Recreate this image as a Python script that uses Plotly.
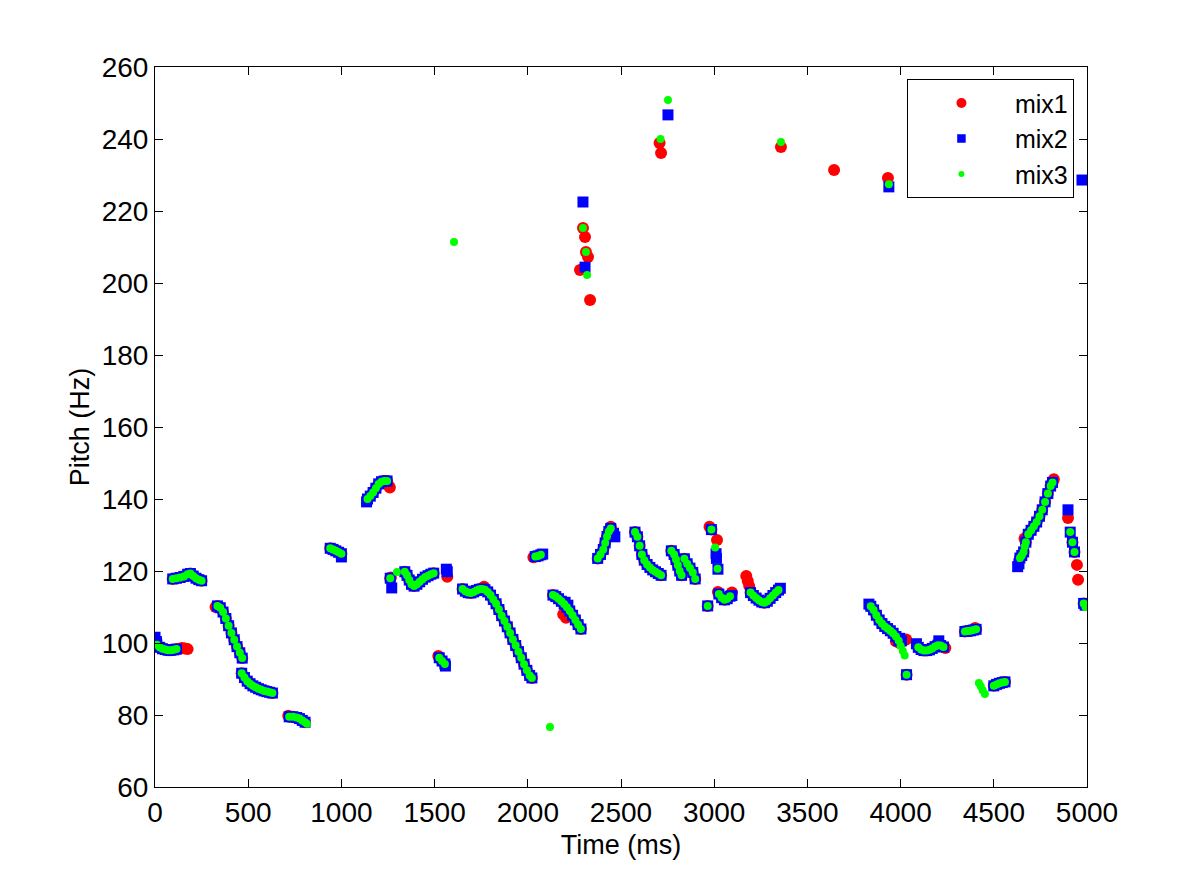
import plotly.graph_objects as go

# ---- pitch tracks shared by all three mixtures (time in ms, pitch in Hz) ----
seg01_t = [10, 25, 40, 55, 70, 85, 100, 115]
seg01_p = [99.5, 98.8, 98.4, 98.2, 98.0, 98.0, 98.1, 98.3]
seg02_t = [95, 115, 135, 155, 175, 190, 205, 220, 235, 250]
seg02_p = [117.8, 118.0, 118.2, 118.5, 119.1, 119.3, 118.6, 118.0, 117.6, 117.3]
seg03_t = [335, 350, 365, 380, 395, 410, 425, 440, 455, 468]
seg03_p = [110.3, 109.8, 108.6, 106.8, 104.8, 102.8, 100.9, 99.0, 97.3, 95.8]
seg04_t = [465, 480, 495, 510, 525, 540, 555, 570, 585, 600, 615, 630]
seg04_p = [91.6, 90.4, 89.4, 88.7, 88.1, 87.7, 87.3, 87.0, 86.7, 86.5, 86.3, 86.1]
seg05_t = [720, 740, 760, 775, 790, 805]
seg05_p = [79.5, 79.5, 79.3, 79.0, 78.5, 78.0]
seg06_t = [940, 955, 970, 985, 1000]
seg06_p = [126.3, 126.0, 125.6, 125.2, 124.8]
seg07_t = [1140, 1155, 1170, 1185, 1200, 1215, 1230, 1245]
seg07_p = [140.0, 140.8, 141.8, 143.0, 144.2, 144.8, 145.0, 145.0]
seg08_t = [1262, 1340, 1352, 1364, 1376, 1390, 1405, 1420, 1435, 1450, 1465, 1480, 1495]
seg08_p = [118.0, 119.8, 118.8, 117.5, 116.3, 115.8, 116.3, 117.0, 117.7, 118.3, 118.7, 119.1, 119.4]
seg09_t = [1525, 1540, 1555]
seg09_p = [95.9, 95.0, 94.2]
seg10_t = [1650, 1665, 1680, 1695, 1710, 1725, 1740, 1755, 1770, 1785, 1800, 1815, 1830,
           1845, 1860, 1875, 1890, 1905, 1920, 1935, 1950, 1965, 1980, 1995, 2010, 2022]
seg10_p = [115.0, 114.4, 114.0, 113.9, 114.2, 114.6, 114.9, 115.0, 114.8, 114.2, 113.3, 112.1, 110.9,
           109.3, 107.6, 106.1, 104.5, 102.8, 101.0, 99.3, 97.6, 95.9, 94.1, 92.4, 91.0, 90.3]
seg11_t = [2040, 2055, 2070]
seg11_p = [124.0, 124.2, 124.5]
seg12_t = [2135, 2150, 2165, 2180, 2195, 2210, 2225, 2240, 2255, 2270, 2285]
seg12_p = [113.3, 112.9, 112.3, 111.6, 110.8, 109.9, 108.9, 107.7, 106.4, 105.1, 103.9]
seg14_t = [2375, 2390, 2405, 2415, 2425, 2435, 2445]
seg14_p = [123.5, 124.6, 126.0, 127.8, 129.6, 131.0, 131.8]
seg15_t = [2575, 2588, 2600, 2612, 2625, 2640, 2655, 2670, 2685, 2700, 2715]
seg15_p = [130.8, 129.5, 127.0, 124.6, 123.0, 121.8, 121.0, 120.3, 119.8, 119.3, 118.8]
seg16_t = [2770, 2785, 2795, 2805, 2815, 2825, 2840, 2855, 2870, 2885, 2898]
seg16_p = [125.6, 124.6, 123.2, 121.6, 120.0, 118.8, 123.4, 122.0, 120.8, 119.6, 117.8]
seg17_t = [2965, 2985]
seg17_p = [110.3, 131.5]
seg18_t = [3025, 3040, 3055, 3070, 3085]
seg18_p = [113.6, 112.6, 112.0, 112.3, 113.0]
seg19_t = [3195, 3210, 3225, 3240, 3255, 3270, 3285, 3300, 3315, 3330, 3345]
seg19_p = [114.0, 113.2, 112.5, 111.9, 111.4, 111.2, 111.6, 112.4, 113.2, 114.0, 114.7]
seg20_t = [3840, 3855, 3870, 3885, 3900, 3915, 3930, 3945, 3960, 3975, 3990, 4032]
seg20_p = [110.2, 109.2, 107.7, 106.4, 105.4, 104.6, 104.0, 103.4, 102.7, 101.8, 100.6, 91.2]
seg21_t = [4095, 4110, 4125, 4140, 4155, 4170, 4185, 4200, 4215, 4230]
seg21_p = [98.8, 98.2, 97.9, 97.9, 98.1, 98.5, 99.0, 99.4, 99.3, 98.9]
seg22_t = [4345, 4360, 4375, 4390, 4405]
seg22_p = [103.2, 103.3, 103.4, 103.6, 103.8]
seg24_t = [4500, 4515, 4530, 4545, 4560]
seg24_p = [88.1, 88.5, 88.8, 89.0, 89.2]
seg25_t = [4640, 4650, 4660, 4672, 4685, 4700, 4715, 4730, 4745, 4760, 4775, 4790, 4805, 4815]
seg25_p = [123.6, 124.3, 125.3, 128.0, 130.2, 131.3, 132.4, 133.6, 135.2, 137.0, 139.2, 141.5, 143.6, 144.6]
seg26_t = [4922, 4933, 4982]
seg26_p = [128.0, 125.3, 111.0]

# ---- points that belong to only one mixture ----
mix1_extra_t = [130, 145, 160, 175, 325, 715, 1250, 1260, 1265, 1520, 1568, 1765, 2030,
                2190, 2205, 2280, 2296, 2307, 2312, 2323, 2334, 2445, 2707, 2715, 2975, 3015,
                3020, 3095, 3172, 3180, 3188, 3358, 3643, 3932, 3975, 3995, 4015, 4030, 4240,
                4400, 4665, 4822, 4898, 4946, 4952, 4990]
mix1_extra_p = [98.4, 98.6, 98.5, 98.3, 110.0, 79.8, 144.0, 143.2, 118.2, 96.4, 118.4, 115.6, 123.8,
                108.0, 107.0, 203.6, 215.3, 212.8, 208.6, 207.2, 195.3, 132.3, 238.9, 236.1, 132.3, 128.6,
                114.2, 114.0, 118.6, 117.2, 115.8, 237.8, 231.4, 229.2, 100.5, 100.0, 100.6, 101.0, 98.6,
                104.2, 129.0, 145.5, 134.7, 121.7, 117.6, 110.8]

mix2_extra_t = [0, 8, 1000, 1135, 1270, 1563, 1568, 1558, 2080, 2200, 2215, 2296, 2307,
                2460, 2467, 2752, 3010, 3012, 3020, 3095, 3355, 3830, 3937, 3995, 4005,
                4085, 4205, 4628, 4635, 4898, 4910, 4990, 4973]
mix2_extra_p = [101.6, 100.4, 123.9, 139.2, 115.3, 120.5, 119.8, 93.6, 124.7, 111.3, 110.5, 222.5, 204.4,
                130.5, 129.5, 246.7, 124.8, 123.5, 120.5, 113.2, 115.2, 110.8, 226.7, 101.3, 100.6,
                99.8, 100.6, 121.2, 122.0, 137.0, 130.8, 110.5, 228.6]

mix3_extra_t = [815, 1298, 1604, 2119, 2296, 2312, 2318, 2712, 2752, 3005, 3018, 3358,
                3937, 4000, 4012, 4022, 4420, 4430, 4440, 4452, 4666, 4910, 4992]
mix3_extra_p = [77.6, 119.7, 211.4, 76.7, 215.3, 208.6, 202.2, 240.0, 250.8, 126.5, 120.6, 239.2,
                227.4, 99.2, 97.8, 96.5, 88.9, 88.0, 86.9, 85.8, 126.8, 130.8, 110.0]

shared_t = (seg01_t + seg02_t + seg03_t + seg04_t + seg05_t + seg06_t + seg07_t + seg08_t
            + seg09_t + seg10_t + seg11_t + seg12_t + seg14_t + seg15_t + seg16_t + seg17_t
            + seg18_t + seg19_t + seg20_t + seg21_t + seg22_t + seg24_t + seg25_t + seg26_t)
shared_p = (seg01_p + seg02_p + seg03_p + seg04_p + seg05_p + seg06_p + seg07_p + seg08_p
            + seg09_p + seg10_p + seg11_p + seg12_p + seg14_p + seg15_p + seg16_p + seg17_p
            + seg18_p + seg19_p + seg20_p + seg21_p + seg22_p + seg24_p + seg25_p + seg26_p)

FONT = "Liberation Sans, Arial, Helvetica, sans-serif"

series = [
    ("mix1", shared_t + mix1_extra_t, shared_p + mix1_extra_p, "circle", 12, 10, "#ff0000"),
    ("mix2", shared_t + mix2_extra_t, shared_p + mix2_extra_p, "square", 11, 8.5, "#0000ff"),
    ("mix3", shared_t + mix3_extra_t, shared_p + mix3_extra_p, "circle", 8, 6, "#00ff00"),
]

fig = go.Figure()
for name, xs, ys, symbol, size, _, color in series:
    fig.add_trace(go.Scatter(
        x=xs, y=ys, mode="markers", name=name, showlegend=False,
        marker={"symbol": symbol, "size": size, "color": color},
    ))
# legend entries use the smaller symbols seen in the reference legend
for name, _, _, symbol, _, legend_size, color in series:
    fig.add_trace(go.Scatter(
        x=[None], y=[None], mode="markers", name=name,
        marker={"symbol": symbol, "size": legend_size, "color": color},
    ))

axis_style = dict(
    showline=True, linecolor="black", linewidth=1, mirror="ticks",
    ticks="inside", ticklen=8, tickcolor="black", showgrid=False, zeroline=False,
    tickfont={"family": FONT, "size": 28, "color": "black"},
)

fig.update_layout(
    width=1200, height=888,
    margin={"l": 147, "r": 121, "t": 59, "b": 109},
    paper_bgcolor="white", plot_bgcolor="white",
    font={"family": FONT, "size": 28, "color": "black"},
    showlegend=True,
    legend={
        "x": 0.986, "y": 0.983, "xanchor": "right", "yanchor": "top",
        "bgcolor": "white", "bordercolor": "black", "borderwidth": 1,
        "font": {"family": FONT, "size": 25, "color": "black"},
        "itemwidth": 97, "tracegroupgap": 0,
    },
    xaxis={**axis_style, "range": [0, 5000], "tickvals": list(range(0, 5001, 500)),
           "title": {"text": "Time (ms)", "standoff": 8, "font": {"size": 27}}},
    yaxis={**axis_style, "range": [60, 260], "tickvals": list(range(60, 261, 20)),
           "title": {"text": "Pitch (Hz)", "standoff": 4, "font": {"size": 27}}},
)

fig.write_html("out.html")
